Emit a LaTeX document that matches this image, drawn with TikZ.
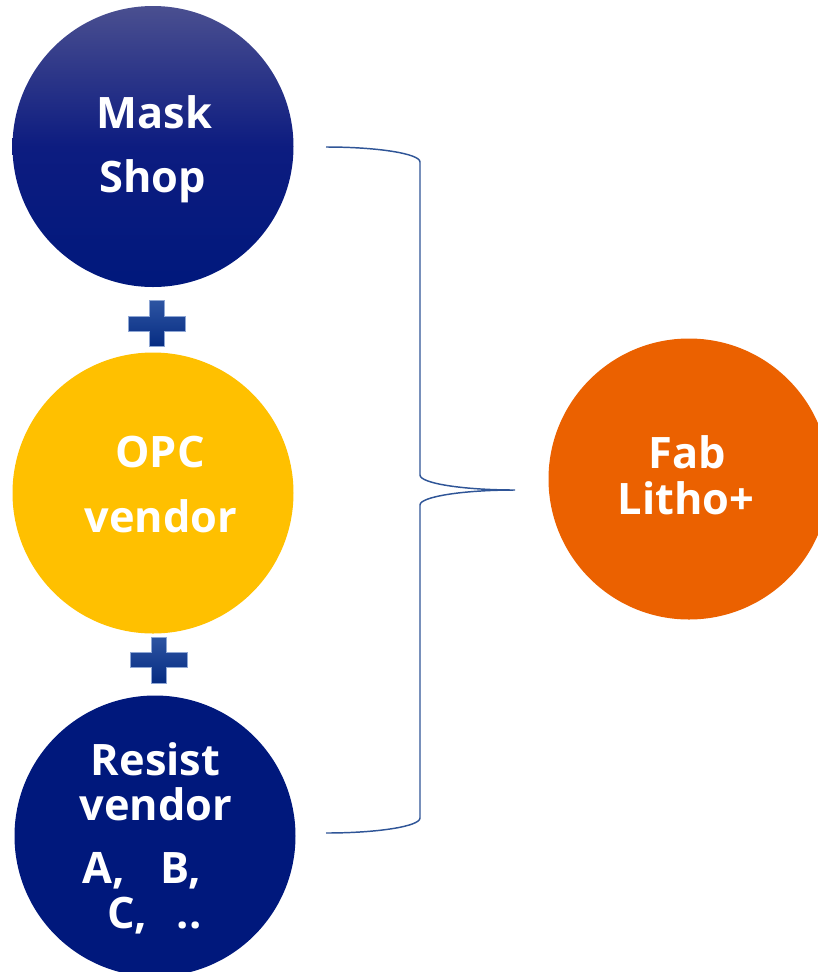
\documentclass[tikz,border=0pt]{standalone}
\usepackage{fontspec}
\setmainfont{Open Sans}
\definecolor{navy}{HTML}{00187C}
\definecolor{navytop}{HTML}{4A4F90}
\definecolor{navymid}{HTML}{0D1C80}
\definecolor{opcgold}{HTML}{FFC000}
\definecolor{faborange}{HTML}{EB6100}
\definecolor{bracecol}{HTML}{2F5597}
\definecolor{plustop}{HTML}{2D54A2}
\definecolor{plusbot}{HTML}{062C82}
\definecolor{plusedge}{HTML}{8EA6D4}
\tikzset{
  disc/.style={circle, minimum size=210.75pt, inner sep=0pt, draw=none},
  lbl/.style={text=white, font=\bfseries\fontsize{32.5}{38}\selectfont, inner sep=0pt, anchor=base},
  lblw/.style={lbl, anchor=base west},
  bracepath/.style={draw=bracecol, line width=1.1pt},
  pics/plussign/.style={code={
    \path[top color=plustop, bottom color=plusbot, draw=plusedge, line width=0.4pt]
      (-7.5,-23) -- (7.5,-23) -- (7.5,-7.5) -- (28.5,-7.5) -- (28.5,7.5) -- (7.5,7.5)
      -- (7.5,23) -- (-7.5,23) -- (-7.5,7.5) -- (-28.5,7.5) -- (-28.5,-7.5) -- (-7.5,-7.5) -- cycle;
  }}
}
\begin{document}
\begin{tikzpicture}[x=0.75pt, y=-0.75pt]
  \useasboundingbox (0,0) rectangle (818,972);

  % vendor circles on the left
  \node[disc, top color=navytop, bottom color=navy, middle color=navymid] (mask) at (153,146.5) {};
  \node[disc, fill=opcgold] (opc) at (153,493) {};
  \node[disc, fill=navy] (resist) at (155,836) {};
  % fab circle on the right
  \node[disc, fill=faborange] (fab) at (689,479) {};

  % plus signs between the circles
  \pic at (156.5,323.5) {plussign};
  \pic at (158.5,660) {plussign};

  % circle labels
  \node[lbl] (maskA) at (154.5,128) {Mask};
  \node[lbl] (maskB) at (152.5,192) {Shop};
  \node[lbl] (opcA) at (160,467) {OPC};
  \node[lbl] (opcB) at (161,532) {vendor};
  \node[lbl] (resA) at (155.5,775) {Resist};
  \node[lbl] (resB) at (156,820) {vendor};
  \node[lblw] (resC) at (82,883) {A,\hspace{27pt}B,};
  \node[lblw] (resD) at (107,928) {C,\hspace{22pt}..};
  \node[lbl] (fabA) at (687.5,468) {Fab};
  \node[lbl] (fabB) at (686,514) {Litho+};

  % curly brace gathering the three vendors
  \coordinate (bTop) at (326,147);
  \coordinate (bTip) at (515,490);
  \coordinate (bBot) at (326,833);
  \draw[bracepath] (bTop) .. controls (378,147) and (420,153.7) .. (420,162)
    -- (420,475) .. controls (420,483.3) and (462.6,490) .. (bTip)
    .. controls (462.6,490) and (420,496.7) .. (420,505)
    -- (420,818) .. controls (420,826.3) and (378,833) .. (bBot);
\end{tikzpicture}
\end{document}
